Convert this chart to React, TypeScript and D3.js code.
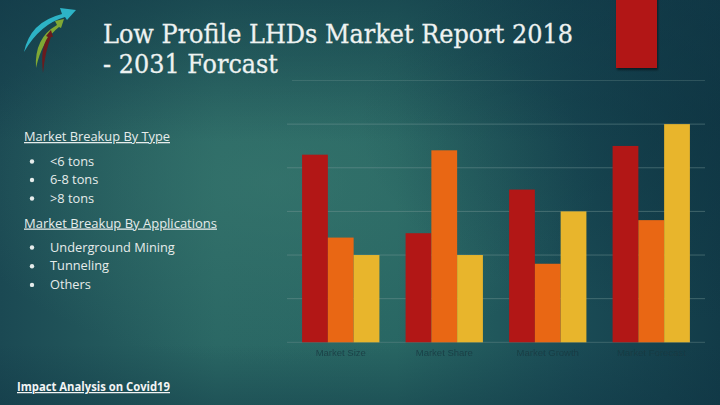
import React from "react";
import * as d3 from "d3";

const categories = ["Market Size", "Market Share", "Market Growth", "Market Forecast"];
const seriesNames = ["Series 1", "Series 2", "Series 3"];
const series1 = [4.3, 2.5, 3.5, 4.5];
const series2 = [2.4, 4.4, 1.8, 2.8];
const series3 = [2.0, 2.0, 3.0, 5.0];
const yTicks = [0, 1, 2, 3, 4, 5, 6];
const typeItems = ["<6 tons", "6-8 tons", ">8 tons"];
const appItems = ["Underground Mining", "Tunneling", "Others"];

const W = 720;
const H = 405;
const colors = ["#b21716", "#e96714", "#e8b52c"];

export default function App() {
  const allSeries = [series1, series2, series3];
  const x = d3
    .scaleBand<string>()
    .domain(categories)
    .range([289, 703])
    .paddingInner(0.253)
    .paddingOuter(0.1265);
  const xs = d3
    .scaleBand<string>()
    .domain(seriesNames)
    .range([0, x.bandwidth()])
    .padding(0);
  const y = d3.scaleLinear().domain([0, 6]).range([342.3, 80.5]);

  const sans = "'Open Sans', 'Noto Sans', sans-serif";
  const textColor = "#e6eceb";
  const fs = 12.8;

  return (
    <svg
      width={W}
      height={H}
      viewBox={`0 0 ${W} ${H}`}
      style={{ position: "absolute", left: 0, top: 0, display: "block" }}
    >
      <defs>
        <linearGradient id="bg" x1="0" y1="0" x2="1" y2="0">
          <stop offset="0" stopColor="#1b4953" />
          <stop offset="0.3" stopColor="#2a6764" />
          <stop offset="0.55" stopColor="#286663" />
          <stop offset="0.8" stopColor="#1a4b55" />
          <stop offset="1" stopColor="#123b48" />
        </linearGradient>
        <radialGradient id="glow" cx="0.38" cy="0.45" r="0.45">
          <stop offset="0" stopColor="#3a7a70" stopOpacity="0.55" />
          <stop offset="1" stopColor="#3a7a70" stopOpacity="0" />
        </radialGradient>
        <linearGradient id="topdark" x1="0" y1="0" x2="0" y2="1">
          <stop offset="0" stopColor="#0f3544" stopOpacity="0.55" />
          <stop offset="0.35" stopColor="#0f3544" stopOpacity="0" />
          <stop offset="0.85" stopColor="#0f3544" stopOpacity="0" />
          <stop offset="1" stopColor="#0f3544" stopOpacity="0.4" />
        </linearGradient>
        <radialGradient id="rightdark" cx="1" cy="0.3" r="0.5">
          <stop offset="0" stopColor="#0e3442" stopOpacity="0.6" />
          <stop offset="1" stopColor="#0e3442" stopOpacity="0" />
        </radialGradient>
        <filter id="shadow" x="-20%" y="-20%" width="150%" height="150%">
          <feDropShadow dx="1" dy="2" stdDeviation="1.2" floodColor="#000" floodOpacity="0.5" />
        </filter>
        <filter id="blur" x="-10%" y="-50%" width="120%" height="200%">
          <feGaussianBlur stdDeviation="0.5" />
        </filter>
      </defs>

      <rect x={0} y={0} width={W} height={H} fill="url(#bg)" />
      <rect x={0} y={0} width={W} height={H} fill="url(#glow)" />
      <rect x={0} y={0} width={W} height={H} fill="url(#topdark)" />
      <rect x={0} y={0} width={W} height={H} fill="url(#rightdark)" />

      {/* logo */}
      <g>
        <path d="M 24,52 Q 30,22 62,14 L 60,8 L 76,10 L 67,20 L 65,17 Q 40,24 24,52 Z" fill="#2db3c6" />
        <path d="M 36,68 Q 34,38 57,25 L 55,21 L 64,19 L 61,28 L 59,27 Q 42,40 36,68 Z" fill="#80a834" />
        <path d="M 43,73 Q 40,48 48,37 L 46,36 L 51,30 L 53,37 L 51,37 Q 45,52 43,73 Z" fill="#6a1b1d" />
      </g>

      {/* title */}
      <text
        x={103}
        y={43}
        fontFamily="'DejaVu Serif', 'Liberation Serif', serif"
        fontSize={26}
        fill="#eef2f1"
        stroke="#eef2f1"
        strokeWidth={0.3}
        textLength={470}
        lengthAdjust="spacingAndGlyphs"
      >
        Low Profile LHDs Market Report 2018
      </text>
      <text
        x={103}
        y={73}
        fontFamily="'DejaVu Serif', 'Liberation Serif', serif"
        fontSize={26}
        fill="#eef2f1"
        stroke="#eef2f1"
        strokeWidth={0.3}
        textLength={175}
        lengthAdjust="spacingAndGlyphs"
      >
        - 2031 Forcast
      </text>

      {/* decorative red legend block */}
      <rect x={616} y={-5} width={41} height={73} fill="#b21716" filter="url(#shadow)" />

      {/* gridlines */}
      {yTicks.map((t) => (
        <line
          key={t}
          x1={t === 6 ? 292 : 287}
          x2={705}
          y1={y(t)}
          y2={y(t)}
          stroke={t === 0 ? "#6e8f8e" : "#7c9c99"}
          strokeOpacity={t === 6 ? 0.35 : 0.55}
          strokeWidth={0.8}
        />
      ))}

      {/* bars */}
      {categories.map((c, i) => (
        <g key={c} transform={`translate(${x(c)},0)`}>
          {allSeries.map((s, j) => (
            <rect
              key={j}
              x={xs(seriesNames[j])}
              y={y(s[i])}
              width={xs.bandwidth()}
              height={y(0) - y(s[i])}
              fill={colors[j]}
            />
          ))}
        </g>
      ))}

      {/* x labels */}
      {categories.map((c) => (
        <text
          key={c}
          x={(x(c) as number) + x.bandwidth() / 2}
          y={356}
          textAnchor="middle"
          fontFamily="'Liberation Sans', Arial, sans-serif"
          fontSize={9.5}
          fill="#193840"
          fillOpacity={0.8}
          filter="url(#blur)"
        >
          {c}
        </text>
      ))}

      {/* left text */}
      <text x={24} y={141} fontFamily={sans} fontSize={fs} fill={textColor} textDecoration="underline" textLength={146} lengthAdjust="spacingAndGlyphs">
        Market Breakup By Type
      </text>
      {typeItems.map((t, i) => (
        <g key={t}>
          <circle cx={32} cy={161.5 + i * 18.5} r={2.2} fill={textColor} />
          <text x={50} y={165.7 + i * 18.5} fontFamily={sans} fontSize={fs} fill={textColor}>
            {t}
          </text>
        </g>
      ))}
      <text x={24} y={227.5} fontFamily={sans} fontSize={fs} fill={textColor} textDecoration="underline" textLength={193} lengthAdjust="spacingAndGlyphs">
        Market Breakup By Applications
      </text>
      {appItems.map((t, i) => (
        <g key={t}>
          <circle cx={32} cy={247.5 + i * 18.7} r={2.2} fill={textColor} />
          <text x={50} y={251.7 + i * 18.7} fontFamily={sans} fontSize={fs} fill={textColor}>
            {t}
          </text>
        </g>
      ))}

      <text
        x={17}
        y={391}
        fontFamily="'Open Sans', 'Liberation Sans', sans-serif"
        fontSize={12.5}
        fontWeight="bold"
        fill="#f2f4f4"
        textDecoration="underline"
        textLength={153}
        lengthAdjust="spacingAndGlyphs"
      >
        Impact Analysis on Covid19
      </text>
    </svg>
  );
}
